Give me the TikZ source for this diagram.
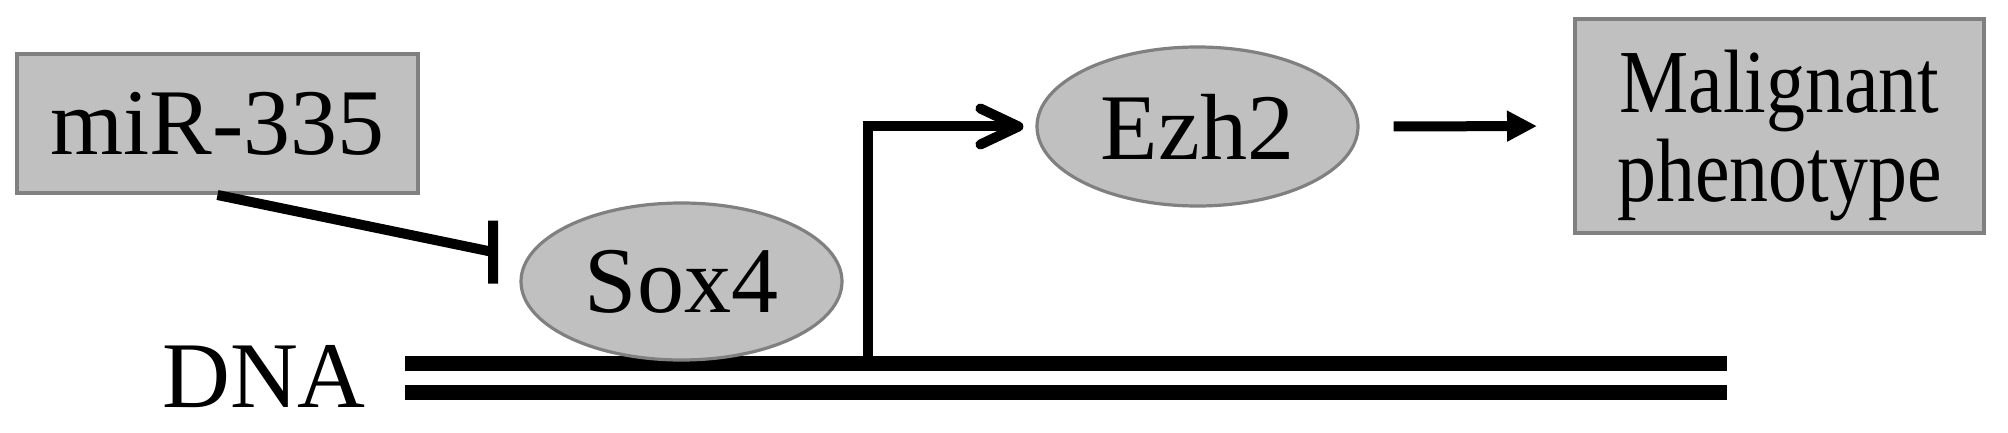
\documentclass[tikz,border=0pt]{standalone}
\usepackage{fontspec}
\usepackage{graphicx}
\setmainfont{Liberation Serif}
\usetikzlibrary{arrows.meta,shapes.geometric}
\definecolor{boxfill}{HTML}{C0C0C0}
\definecolor{boxline}{HTML}{808080}
\tikzset{
  gbox/.style={draw=boxline, fill=boxfill, line width=2pt, rectangle, inner sep=0pt},
  gell/.style={draw=boxline, fill=boxfill, line width=1.6pt, ellipse, inner sep=0pt},
  bigtxt/.style={font=\fontsize{47}{44}\selectfont},
  conn/.style={line width=5pt, black},
  dnaline/.style={line width=7.5pt, black},
}
\begin{document}
\begin{tikzpicture}[x=0.5pt, y=-0.5pt]
\useasboundingbox (0,0) rectangle (2008,433);
% DNA strands
\coordinate (d1a) at (405,363);
\coordinate (d1b) at (1727,363);
\coordinate (d2a) at (405,392.5);
\coordinate (d2b) at (1727,392.5);
\draw[dnaline] (d1a) -- (d1b);
\draw[dnaline] (d2a) -- (d2b);
\node[bigtxt, anchor=base] (dna) at (264,407) {DNA};
% nodes
\node[gbox, bigtxt, minimum width=200.5pt, minimum height=69.5pt] (mir) at (217.5,123.5) {miR-335};
\node[gell, bigtxt, minimum width=160.5pt, minimum height=78.5pt] (sox) at (681.5,281.5) {Sox4};
\node[gell, bigtxt, minimum width=160.5pt, minimum height=79.5pt] (ezh) at (1197.5,126.5) {Ezh2};
\node[gbox, font=\fontsize{45}{44}\selectfont, minimum width=204.5pt, minimum height=107pt] (mal) at (1779.5,126)
  {\raisebox{-6.5pt}[\height][\depth]{\begin{tabular}{@{}c@{}}\scalebox{0.865}[1]{Malignant}\\\scalebox{0.865}[1]{phenotype}\end{tabular}}};
% connectors
\coordinate (inh) at (493,252);
\draw[conn] (mir.south) -- (inh) ++(0,-31.5) -- ++(0,63);
\coordinate (prom) at (868,360);
\draw[conn, line join=miter, -{Straight Barb[length=19pt, width=18pt, round]}, shorten >=6pt] (prom) |- (ezh.west);
\draw[conn, -{Triangle[length=15pt, width=14.5pt]}, shorten <=17pt, shorten >=18pt] (ezh.east) -- (mal.west);
\end{tikzpicture}
\end{document}
